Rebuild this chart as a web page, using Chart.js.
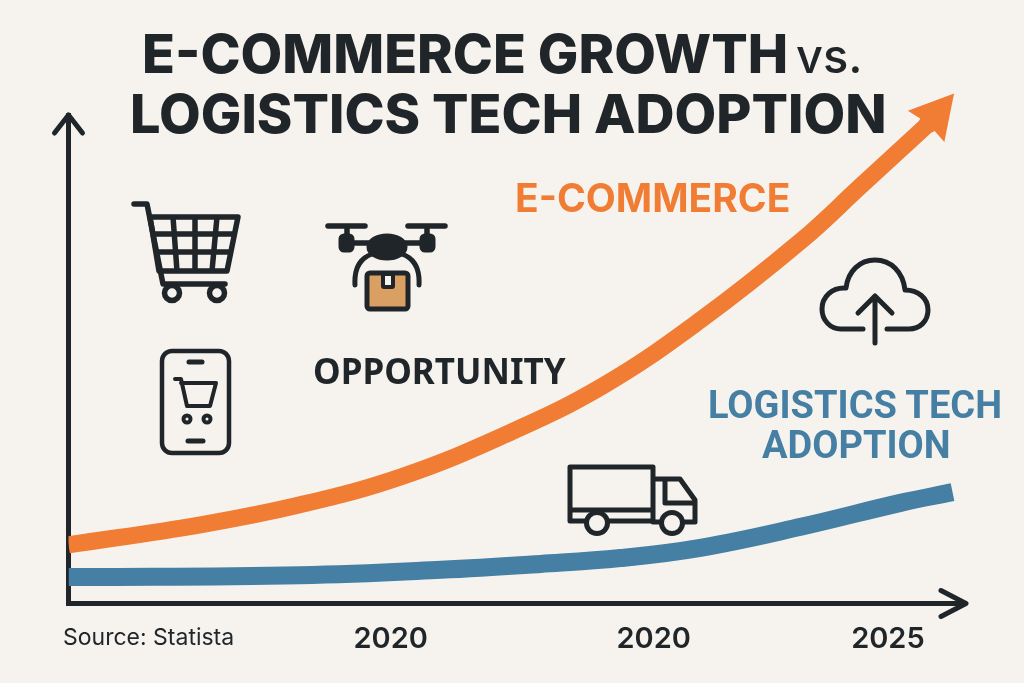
<!DOCTYPE html>
<html>
<head>
<meta charset="utf-8">
<title>E-Commerce Growth vs. Logistics Tech Adoption</title>
<script src="https://cdn.jsdelivr.net/npm/chart.js@4/dist/chart.umd.min.js"></script>
<style>
  html, body { margin: 0; padding: 0; background: #f6f3ee; }
  #wrap { position: relative; width: 1024px; height: 683px; overflow: hidden; }
  #lineChart { position: absolute; left: 0; top: 0; }
  .txt { position: absolute; white-space: nowrap; font-family: Inter, sans-serif; font-weight: 700; line-height: 1; }
  .dark { color: #1f2528; }
  .icons { position: absolute; left: 0; top: 0; }
  .icons * { fill: none; stroke: #1f2528; stroke-width: 5; stroke-linecap: round; stroke-linejoin: round; }
</style>
</head>
<body>
<div id="wrap">
  <canvas id="lineChart" width="1024" height="683"></canvas>

  <svg class="icons" width="1024" height="683">
    <!-- cart -->
    <path d="M134 204H147L163 284H225" style="stroke-width:5.5"/>
    <path d="M150 217H238L227 271H159Z M154 234H234 M157 252H230 M173 217L177 271 M195 217V271 M217 217L212 271" style="stroke-width:5.5"/>
    <circle cx="172" cy="293" r="7.5" style="fill:#f6f3ee;stroke-width:5.5"/>
    <circle cx="217" cy="293" r="7.5" style="fill:#f6f3ee;stroke-width:5.5"/>
    <!-- phone -->
    <rect x="162" y="351" width="67" height="102" rx="10" style="stroke-width:4.5"/>
    <path d="M189 362H202 M188 441H203"/>
    <path d="M175 379H181L187 406H210L216 383H181" style="stroke-width:4"/>
    <circle cx="187" cy="419" r="3.5" style="stroke-width:4"/>
    <circle cx="207" cy="419" r="3.5" style="stroke-width:4"/>
    <!-- drone -->
    <path d="M328 226H365 M408 226H445 M347 226V240 M427 226V240 M350 243H425" style="stroke-width:5.5"/>
    <rect x="341" y="236" width="11" height="14" rx="3" style="fill:#1f2528"/>
    <rect x="422" y="236" width="11" height="14" rx="3" style="fill:#1f2528"/>
    <ellipse cx="387" cy="247" rx="18" ry="11" style="fill:#1f2528"/>
    <path d="M355 285C354 268 361 258 372 254 M419 285C420 268 413 258 402 254"/>
    <rect x="367" y="273" width="41" height="36" rx="3" style="fill:#d99f63"/>
    <rect x="383" y="274" width="10" height="13" rx="1" style="fill:#f6f3ee;stroke-width:4"/>
    <!-- truck -->
    <path d="M653 521H570V467H653V521 M570 510H653"/>
    <path d="M655 479H680L695 500V522H653 M665 479V503H695"/>
    <circle cx="597" cy="523" r="10.5" style="fill:#f6f3ee"/>
    <circle cx="672" cy="523" r="10.5" style="fill:#f6f3ee"/>
    <!-- cloud -->
    <path d="M863 329H841C830 329 822 320 822 309C822 297 832 287 846 288C848 271 860 260 875 260C891 260 903 272 905 290C918 290 928 298 928 310C928 321 920 329 909 329H887"/>
    <path d="M875 343V297 M858 313L875 296L892 313"/>
  </svg>

  <div class="txt dark" style="left:142px;top:27px;font-size:54px;font-weight:800;">E-COMMERCE GROWTH</div>
  <div class="txt dark" style="left:796px;top:32px;font-size:47px;font-weight:500;">vs.</div>
  <div class="txt dark" style="left:130px;top:87px;font-size:54px;font-weight:800;">LOGISTICS TECH ADOPTION</div>
  <div class="txt" style="left:515px;top:178px;font-size:39px;color:#f07d33;">E-COMMERCE</div>
  <div class="txt dark" style="left:313px;top:353px;font-size:35px;font-family:'Noto Sans',sans-serif;">OPPORTUNITY</div>
  <div class="txt" style="left:708px;top:386px;font-size:38px;font-family:Roboto,sans-serif;color:#457fa3;">LOGISTICS TECH</div>
  <div class="txt" style="left:762px;top:426px;font-size:38px;font-family:Roboto,sans-serif;color:#457fa3;">ADOPTION</div>
  <div class="txt dark" style="left:63px;top:626px;font-size:23px;font-weight:400;">Source: Statista</div>
</div>

<script>
// x is a position along the time axis, 0 to 100; y is an index, 0 to 100
const ecommerceX = [0, 14.7, 25.8, 37, 48.1, 59.3, 70.4, 81.6, 88.3, 95.7];
const ecommerceY = [12, 16.1, 20.2, 25.9, 34.1, 44.3, 58, 74.2, 85.5, 98];

const logisticsX = [0, 25.8, 41.5, 52.6, 61.5, 70.4, 81.6, 92.7, 98.5];
const logisticsY = [5.4, 5.8, 6.9, 8.1, 9.3, 11.4, 15.7, 20.6, 22.8];

const tickPositions = [35.9, 65.2, 91.3];
const tickLabels = ['2020', '2020', '2025'];

const axisColor = '#1f2528';

function toPoints(xs, ys) {
  return xs.map((x, i) => ({ x: x, y: ys[i] }));
}

// axis arrows and the arrow head on the e-commerce line
const arrowsPlugin = {
  id: 'arrows',
  afterDatasetsDraw(chart) {
    const ctx = chart.ctx;
    const area = chart.chartArea;
    ctx.save();
    ctx.strokeStyle = axisColor;
    ctx.lineWidth = 5;
    ctx.lineCap = 'round';
    ctx.lineJoin = 'round';
    ctx.beginPath();
    ctx.moveTo(area.left - 14, area.top + 18);
    ctx.lineTo(area.left, area.top);
    ctx.lineTo(area.left + 14, area.top + 18);
    ctx.moveTo(area.right - 25, area.bottom - 13);
    ctx.lineTo(area.right, area.bottom);
    ctx.lineTo(area.right - 25, area.bottom + 13);
    ctx.stroke();

    const pts = chart.getDatasetMeta(0).data;
    const end = pts[pts.length - 1];
    const prev = pts[pts.length - 2];
    const a = Math.atan2(end.y - prev.y, end.x - prev.x) - 0.12;
    ctx.translate(end.x, end.y);
    ctx.rotate(a);
    ctx.fillStyle = '#f07d33';
    ctx.beginPath();
    ctx.moveTo(41, 0);
    ctx.lineTo(-2, -24);
    ctx.lineTo(0, -9.5);
    ctx.lineTo(-3, -8.5);
    ctx.lineTo(-3, 8.5);
    ctx.lineTo(0, 9.5);
    ctx.lineTo(-2, 24);
    ctx.closePath();
    ctx.fill();
    ctx.restore();
  }
};

new Chart(document.getElementById('lineChart'), {
  type: 'line',
  data: {
    datasets: [{
      label: 'E-Commerce',
      data: toPoints(ecommerceX, ecommerceY),
      borderColor: '#f07d33',
      borderWidth: 17,
      pointRadius: 0,
      tension: 0.4
    }, {
      label: 'Logistics Tech Adoption',
      data: toPoints(logisticsX, logisticsY),
      borderColor: '#457fa3',
      borderWidth: 18,
      pointRadius: 0,
      tension: 0.4
    }]
  },
  plugins: [arrowsPlugin],
  options: {
    responsive: false,
    animation: false,
    layout: { padding: { left: 68.5, right: 58, top: 115, bottom: 0 } },
    plugins: { legend: { display: false }, tooltip: { enabled: false } },
    scales: {
      x: {
        type: 'linear',
        min: 0,
        max: 100,
        grid: { display: false, drawTicks: false },
        border: { display: true, color: axisColor, width: 5 },
        afterBuildTicks: axis => { axis.ticks = tickPositions.map(v => ({ value: v })); },
        afterFit: axis => { axis.height = 79.5; },
        ticks: {
          autoSkip: false,
          maxRotation: 0,
          padding: 18,
          color: axisColor,
          font: { family: 'Inter', size: 29, weight: '600' },
          callback: (value, i) => tickLabels[i]
        }
      },
      y: {
        min: 0,
        max: 100,
        grid: { display: false, drawTicks: false },
        border: { display: true, color: axisColor, width: 5 },
        ticks: { display: false }
      }
    }
  }
});
</script>
</body>
</html>
